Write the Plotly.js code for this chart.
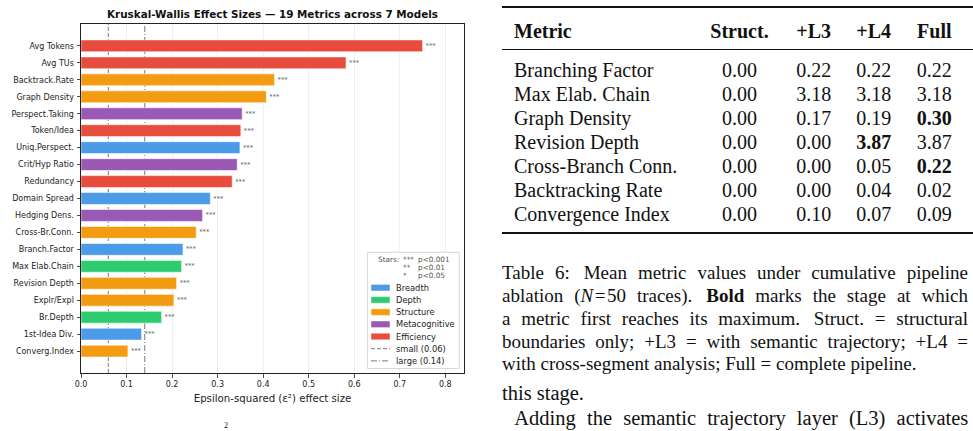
<!DOCTYPE html>
<html>
<head>
<meta charset="utf-8">
<script src="https://cdn.plot.ly/plotly-3.0.1.min.js"></script>
<style>
  html, body { margin: 0; padding: 0; background: #fff; width: 973px; height: 431px; overflow: hidden; }
  #chart { position: absolute; left: 0; top: 0; width: 480px; height: 431px; }
  #page { position: absolute; left: 0; top: 0; width: 973px; height: 431px;
          font-family: 'Liberation Serif', 'Times New Roman', serif; color: #111; pointer-events: none; }
  .rule { position: absolute; left: 502px; width: 471px; background: #111; }
  .cell { position: absolute; font-size: 20px; line-height: 24px; white-space: nowrap; }
  .num { width: 90px; text-align: center; }
  .cap { position: absolute; left: 502px; width: 466px; font-size: 19px; line-height: 22px;
         text-align: justify; text-align-last: justify; }
  .cap.last { text-align-last: left; }
  .body { font-size: 20.5px; }
  .rel { margin: 0 1.5px; }
  .wide { margin-right: 3px; }
</style>
</head>
<body>
<div id="chart"></div>
<div id="page"></div>
<script>
// ---- Kruskal-Wallis effect sizes (top bar first) ----
const metrics = ['Avg Tokens', 'Avg TUs', 'Backtrack.Rate', 'Graph Density', 'Perspect.Taking',
  'Token/Idea', 'Uniq.Perspect.', 'Crit/Hyp Ratio', 'Redundancy', 'Domain Spread',
  'Hedging Dens.', 'Cross-Br.Conn.', 'Branch.Factor', 'Max Elab.Chain', 'Revision Depth',
  'Explr/Expl', 'Br.Depth', '1st-Idea Div.', 'Converg.Index'];
const epsilonSq = [0.750, 0.582, 0.425, 0.407, 0.354, 0.351, 0.349, 0.343, 0.332, 0.284,
  0.267, 0.253, 0.224, 0.221, 0.210, 0.204, 0.177, 0.133, 0.103];
const groups = ['Efficiency', 'Efficiency', 'Structure', 'Structure', 'Metacognitive',
  'Efficiency', 'Breadth', 'Metacognitive', 'Efficiency', 'Breadth',
  'Metacognitive', 'Structure', 'Breadth', 'Depth', 'Structure',
  'Structure', 'Depth', 'Breadth', 'Structure'];
const stars = ['***', '***', '***', '***', '***', '***', '***', '***', '***', '***',
  '***', '***', '***', '***', '***', '***', '***', '***', '***'];
const groupNames = ['Breadth', 'Depth', 'Structure', 'Metacognitive', 'Efficiency'];
const groupColors = ['#4C9BE8', '#2ECC71', '#F39C12', '#9B59B6', '#E74C3C'];
const thresholds = [0.06, 0.14];
const thresholdLabels = ['small (0.06)', 'large (0.14)'];
const starKey = [['***', 'p<0.001'], ['**', 'p<0.01'], ['*', 'p<0.05']];

// ---- Ablation table ----
const tableColumns = ['Metric', 'Struct.', '+L3', '+L4', 'Full'];
const tableMetrics = ['Branching Factor', 'Max Elab. Chain', 'Graph Density', 'Revision Depth',
  'Cross-Branch Conn.', 'Backtracking Rate', 'Convergence Index'];
const structVals = ['0.00', '0.00', '0.00', '0.00', '0.00', '0.00', '0.00'];
const l3Vals = ['0.22', '3.18', '0.17', '0.00', '0.00', '0.00', '0.10'];
const l4Vals = ['0.22', '3.18', '0.19', '3.87', '0.05', '0.04', '0.07'];
const fullVals = ['0.22', '3.18', '0.30', '3.87', '0.22', '0.02', '0.09'];
const boldStage = ['', '', 'Full', '+L4', 'Full', '', ''];

const captionLines = [
  'Table 6:<span class="wide"></span> Mean metric values under cumulative pipeline',
  'ablation (<i>N</i><span class="rel">=</span>50 traces).<span class="wide"></span> <b>Bold</b> marks the stage at which',
  'a metric first reaches its maximum.<span class="wide"></span> Struct. = structural',
  'boundaries only; +L3 = with semantic trajectory; +L4 =',
  'with cross-segment analysis; Full = complete pipeline.'
];

// ---------------- chart ----------------
const W = 480, H = 431;
const M = { l: 81, r: 16, t: 24, b: 58 };
const plotW = W - M.l - M.r, plotH = H - M.t - M.b;
const px = x => (x - M.l) / plotW;          // page pixel -> paper x
const py = y => (H - M.b - y) / plotH;      // page pixel -> paper y
const colorOf = g => groupColors[groupNames.indexOf(g)];
const FONT = 'DejaVu Sans, sans-serif';

const bars = {
  type: 'bar', orientation: 'h',
  x: epsilonSq, y: metrics, width: 0.7,
  marker: { color: groups.map(colorOf), line: { color: 'rgba(255,255,255,0.8)', width: 0.7 } },
  text: stars, textposition: 'outside', cliponaxis: false, constraintext: 'none',
  textfont: { family: FONT, size: 6.7, color: '#555' },
  hoverinfo: 'x+y', showlegend: false
};

const shapes = [];
const annotations = [];
const dashes = ['4px,2px', '6px,2px,1px,2px'];

thresholds.forEach((t, i) => shapes.push({
  type: 'line', xref: 'x', yref: 'paper', x0: t, x1: t, y0: 0, y1: 1, layer: 'below',
  line: { color: '#6a6a6a', width: 0.9, dash: dashes[i] }
}));

// legend frame
const LG = { x0: 367.5, x1: 459.3, y0: 252.3, y1: 368.5, patchX0: 371, patchX1: 390,
             labelX: 395.2, row0: 287.7, rowStep: 12.2 };
shapes.push({ type: 'rect', xref: 'paper', yref: 'paper', x0: px(LG.x0), x1: px(LG.x1),
  y0: py(LG.y1), y1: py(LG.y0), fillcolor: 'rgba(255,255,255,0.92)',
  line: { color: '#cfcfcf', width: 0.8 }, layer: 'above' });

// significance key inside the legend
const keyFont = { family: FONT, size: 7.3, color: '#555' };
const starRowsY = [259, 267.3, 275.2];
const note = (x, y, text, font) => annotations.push({ xref: 'paper', yref: 'paper', x: px(x), y: py(y),
  xanchor: 'left', yanchor: 'middle', text: text, showarrow: false, borderpad: 0, font: font });
note(377.2, starRowsY[0], 'Stars:', keyFont);
starKey.forEach((k, i) => {
  note(402.3, starRowsY[i], k[0], keyFont);
  note(417.2, starRowsY[i], k[1], keyFont);
});

const labelFont = { family: FONT, size: 8.3, color: '#222' };
groupNames.forEach((g, i) => {
  const cy = LG.row0 + i * LG.rowStep;
  shapes.push({ type: 'rect', xref: 'paper', yref: 'paper', x0: px(LG.patchX0), x1: px(LG.patchX1),
    y0: py(cy + 3.3), y1: py(cy - 3.3), fillcolor: groupColors[i],
    line: { color: 'rgba(255,255,255,0.8)', width: 0.6 }, layer: 'above' });
  note(LG.labelX, cy, g, labelFont);
});
thresholdLabels.forEach((lab, i) => {
  const cy = LG.row0 + (groupNames.length + i) * LG.rowStep;
  shapes.push({ type: 'line', xref: 'paper', yref: 'paper', x0: px(LG.patchX0), x1: px(LG.patchX1),
    y0: py(cy), y1: py(cy), line: { color: '#6a6a6a', width: 0.9, dash: dashes[i] }, layer: 'above' });
  note(LG.labelX, cy, lab, labelFont);
});

const layout = {
  width: W, height: H, margin: M,
  paper_bgcolor: '#fff', plot_bgcolor: '#fff',
  font: { family: FONT, size: 8, color: '#222' },
  title: { text: 'Kruskal-Wallis Effect Sizes \u2014 19 Metrics across 7 Models',
    font: { family: FONT, size: 10.4, weight: 'bold', color: '#111' },
    x: 0.5, xref: 'paper', xanchor: 'center', y: 1 - 14.7 / H, yref: 'container', yanchor: 'middle' },
  xaxis: {
    range: [0, 0.841], dtick: 0.1, tick0: 0, tickformat: '.1f',
    showgrid: true, gridcolor: '#ebebeb', gridwidth: 0.8, zeroline: false,
    showline: true, linecolor: '#222', linewidth: 1, mirror: true,
    ticks: 'outside', ticklen: 3.5, tickwidth: 0.8, tickcolor: '#222',
    tickfont: { family: FONT, size: 8, color: '#222' },
    automargin: true,
    title: { text: 'Epsilon-squared (\u03b5\u00b2) effect size', standoff: 6,
      font: { family: FONT, size: 10.2, color: '#222' } }
  },
  yaxis: {
    type: 'category', categoryorder: 'array', categoryarray: metrics,
    range: [metrics.length - 1 + 1.29, -1.29], autorange: false,
    showgrid: false, zeroline: false,
    showline: true, linecolor: '#222', linewidth: 1, mirror: true,
    ticks: 'outside', ticklen: 3.5, tickwidth: 0.8, tickcolor: '#222',
    tickfont: { family: FONT, size: 8, color: '#222' }, ticklabelstandoff: 1
  },
  shapes: shapes, annotations: annotations
};

Plotly.newPlot('chart', [bars], layout, { displayModeBar: false, staticPlot: true });

// ---------------- table and caption ----------------
const page = document.getElementById('page');
function add(cls, css, html) {
  const d = document.createElement('div');
  d.className = cls;
  Object.assign(d.style, css);
  d.innerHTML = html;
  page.appendChild(d);
  return d;
}
// booktabs rules
add('rule', { top: '6px', height: '2.2px' }, '');
add('rule', { top: '48.6px', height: '1.3px' }, '');
add('rule', { top: '232.3px', height: '2.2px' }, '');

const colCenters = [0, 739.5, 813.7, 873.7, 934.3];
const headerY = 30.7, firstRowY = 70, rowStep = 24;
tableColumns.forEach((c, j) => {
  if (j === 0) add('cell', { left: '514px', top: (headerY - 12) + 'px', fontWeight: 'bold' }, c);
  else add('cell num', { left: (colCenters[j] - 45) + 'px', top: (headerY - 12) + 'px', fontWeight: 'bold' }, c);
});
const columns = [structVals, l3Vals, l4Vals, fullVals];
tableMetrics.forEach((m, i) => {
  const top = (firstRowY + i * rowStep - 12) + 'px';
  add('cell', { left: '514px', top: top }, m);
  columns.forEach((vals, k) => {
    const j = k + 1;
    const bold = boldStage[i] === tableColumns[j];
    add('cell num', { left: (colCenters[j] - 45) + 'px', top: top, fontWeight: bold ? 'bold' : 'normal' }, vals[i]);
  });
});

const capY = [273.3, 296, 318.7, 341.7, 364.3];
captionLines.forEach((t, i) => {
  add('cap' + (i === captionLines.length - 1 ? ' last' : ''), { top: (capY[i] - 11) + 'px' }, t);
});
add('cap last body', { top: (393.3 - 11) + 'px' }, 'this stage.');
add('cap body', { top: (417.7 - 11) + 'px', left: '514.3px', width: '454px' },
  'Adding the semantic trajectory layer (L3) activates');
add('cell', { left: '224px', top: '422px', fontSize: '8px', lineHeight: '8px' }, '2');
</script>
</body>
</html>
